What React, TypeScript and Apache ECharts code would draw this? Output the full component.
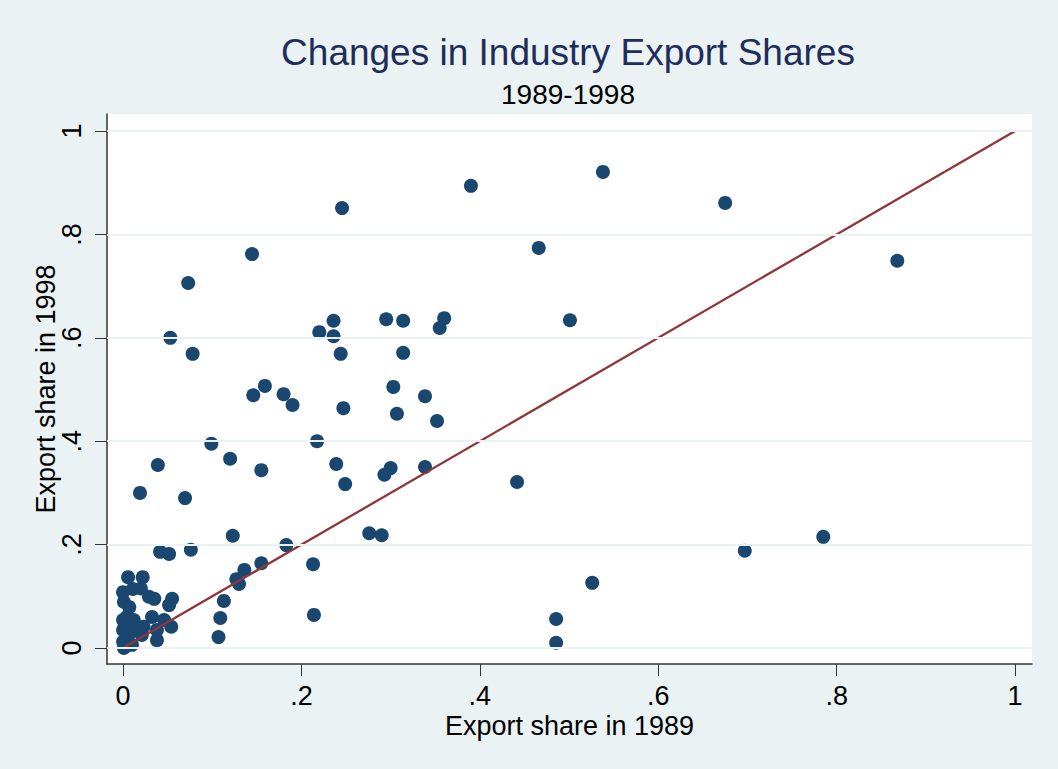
import React, { useEffect, useRef } from "react";
import * as echarts from "echarts";

const TITLE = "Changes in Industry Export Shares";
const SUBTITLE = "1989-1998";
const X_NAME = "Export share in 1989";
const Y_NAME = "Export share in 1998";

const xTicks = [0, 0.2, 0.4, 0.6, 0.8, 1];
const yTicks = [0, 0.2, 0.4, 0.6, 0.8, 1];

// Export share in 1989 (x) and 1998 (y) per industry
const share1989 = [
  0.538, 0.390, 0.675, 0.2455, 0.1446, 0.466, 0.868, 0.073, 0.053, 0.078,
  0.220, 0.236, 0.236, 0.244, 0.146, 0.159, 0.180, 0.190, 0.247, 0.099,
  0.120, 0.155, 0.2175, 0.239, 0.249, 0.039, 0.019, 0.0695, 0.123, 0.295,
  0.314, 0.360, 0.355, 0.501, 0.314, 0.303, 0.3385, 0.307, 0.352, 0.293,
  0.300, 0.3385, 0.4417, 0.276, 0.290, 0.183, 0.155, 0.136, 0.127, 0.130,
  0.213, 0.214, 0.113, 0.526, 0.4855, 0.4855, 0.697, 0.785, 0.109, 0.107,
  0.0415, 0.0516, 0.076,
  0.0056, 0.022, 0.0, 0.011, 0.020, 0.029, 0.035, 0.055, 0.0516, 0.001,
  0.007, 0.0325, 0.046, 0.054, 0.038, 0.038, 0.0, 0.004, 0.012, 0.0,
  0.004, 0.016, 0.021, 0.0, 0.001, 0.010, 0.023, 0.003, 0.008,
];
const share1998 = [
  0.921, 0.894, 0.861, 0.851, 0.762, 0.774, 0.749, 0.706, 0.600, 0.569,
  0.611, 0.633, 0.603, 0.569, 0.489, 0.507, 0.491, 0.470, 0.464, 0.395,
  0.366, 0.344, 0.400, 0.356, 0.317, 0.354, 0.300, 0.290, 0.217, 0.636,
  0.633, 0.638, 0.619, 0.634, 0.571, 0.505, 0.487, 0.453, 0.439, 0.335,
  0.348, 0.350, 0.321, 0.222, 0.218, 0.199, 0.164, 0.151, 0.133, 0.124,
  0.162, 0.064, 0.091, 0.126, 0.056, 0.010, 0.188, 0.215, 0.058, 0.021,
  0.186, 0.182, 0.190,
  0.137, 0.137, 0.108, 0.114, 0.115, 0.099, 0.095, 0.095, 0.083, 0.089,
  0.079, 0.060, 0.054, 0.041, 0.035, 0.015, 0.054, 0.060, 0.054, 0.035,
  0.021, 0.035, 0.025, 0.012, 0.0, 0.006, 0.041, 0.045, 0.030,
];

// 45-degree reference line endpoints
const diagonal = [
  [0, 0],
  [1, 1],
];

const FONT = "'Liberation Sans', Arial, sans-serif";
const BG = "#EAF2F3";
const NAVY = "#1a476f";
const MAROON = "#90353b";
const AXIS = "#333333";

const fmt = (v: number) => {
  if (v === 0) return "0";
  if (v === 1) return "1";
  return String(v).replace(/^0/, "");
};

export default function App() {
  const ref = useRef<HTMLDivElement>(null);

  useEffect(() => {
    if (!ref.current) return;
    const chart = echarts.init(ref.current, undefined, { renderer: "svg" });
    const points = share1989.map((x, i) => [x, share1998[i]]);

    chart.setOption({
      animation: false,
      backgroundColor: BG,
      graphic: [
        {
          type: "text",
          x: 568,
          y: 52,
          style: {
            text: TITLE,
            textAlign: "center",
            textVerticalAlign: "middle",
            fontFamily: FONT,
            fontSize: 37,
            fill: "#1e2d5a",
          },
        },
        {
          type: "text",
          x: 568,
          y: 94,
          style: {
            text: SUBTITLE,
            textAlign: "center",
            textVerticalAlign: "middle",
            fontFamily: FONT,
            fontSize: 28,
            fill: "#000000",
          },
        },
      ],
      grid: {
        left: 107,
        right: 26,
        top: 114,
        bottom: 105,
        show: true,
        backgroundColor: "#ffffff",
        borderWidth: 0,
      },
      xAxis: {
        type: "value",
        min: -0.018,
        max: 1.019,
        name: X_NAME,
        nameLocation: "middle",
        nameGap: 48,
        nameMoveOverlap: false,
        nameTextStyle: { fontFamily: FONT, fontSize: 27, color: "#000" },
        axisLine: { show: true, onZero: false, lineStyle: { color: AXIS, width: 1.5 } },
        axisTick: { show: true, customValues: xTicks, length: 12, lineStyle: { color: AXIS, width: 1 } },
        axisLabel: {
          customValues: xTicks,
          formatter: fmt,
          fontFamily: FONT,
          fontSize: 27,
          color: "#000",
          margin: 18,
        },
        splitLine: { show: false },
      },
      yAxis: {
        type: "value",
        min: -0.031,
        max: 1.033,
        name: Y_NAME,
        nameLocation: "middle",
        nameGap: 48,
        nameMoveOverlap: false,
        nameRotate: 90,
        nameTextStyle: { fontFamily: FONT, fontSize: 27, color: "#000" },
        axisLine: { show: true, onZero: false, lineStyle: { color: AXIS, width: 1.5 } },
        axisTick: { show: true, customValues: yTicks, length: 12, lineStyle: { color: AXIS, width: 1 } },
        axisLabel: {
          customValues: yTicks,
          formatter: fmt,
          rotate: 90,
          fontFamily: FONT,
          fontSize: 27,
          color: "#000",
          margin: 22,
        },
        splitLine: { show: false },
      },
      series: [
        {
          type: "line",
          data: [],
          z: 1,
          silent: true,
          markLine: {
            silent: true,
            symbol: "none",
            label: { show: false },
            lineStyle: { color: BG, width: 2, type: "solid" },
            data: yTicks.map((v) => ({ yAxis: v })),
          },
        },
        {
          type: "scatter",
          data: points,
          symbol: "circle",
          symbolSize: 14,
          itemStyle: { color: NAVY, opacity: 1 },
          z: 3,
        },
        {
          type: "line",
          data: diagonal,
          symbol: "none",
          lineStyle: { color: MAROON, width: 2.3 },
          z: 4,
        },
      ],
    });

    return () => chart.dispose();
  }, []);

  return (
    <div
      ref={ref}
      style={{ position: "absolute", left: 0, top: 0, width: 1058, height: 769 }}
    />
  );
}
